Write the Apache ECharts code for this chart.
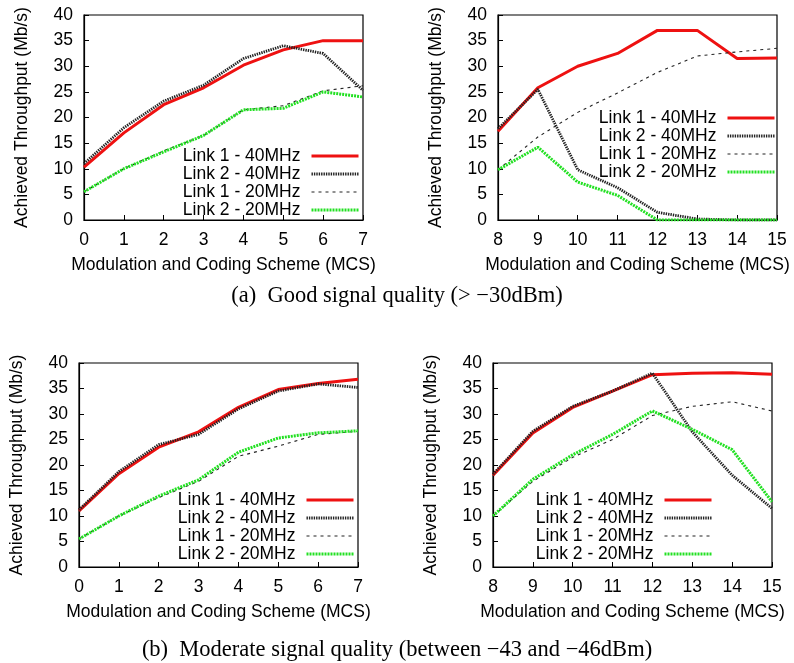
<!DOCTYPE html>
<html>
<head>
<meta charset="utf-8">
<script src="https://cdn.jsdelivr.net/npm/echarts@6/dist/echarts.min.js"></script>
<style>
html,body{margin:0;padding:0;background:#fff;}
#chart{width:794px;height:663px;}
</style>
</head>
<body>
<div id="chart"></div>
<script>
// ---- Data ----
const seriesNames = ['Link 1 - 40MHz', 'Link 2 - 40MHz', 'Link 1 - 20MHz', 'Link 2 - 20MHz'];
const mcsLow = [0, 1, 2, 3, 4, 5, 6, 7];
const mcsHigh = [8, 9, 10, 11, 12, 13, 14, 15];

// (a) Good signal quality, MCS 0-7
const goodLowL1_40 = [10.3, 17.0, 22.5, 25.8, 30.2, 33.2, 35.0, 35.0];
const goodLowL2_40 = [11.0, 18.0, 23.2, 26.3, 31.5, 34.0, 32.5, 25.3];
const goodLowL1_20 = [5.5, 10.0, 13.5, 16.5, 21.5, 22.3, 25.2, 26.2];
const goodLowL2_20 = [5.5, 10.0, 13.3, 16.5, 21.5, 21.8, 25.0, 24.0];

// (a) Good signal quality, MCS 8-15
const goodHighL1_40 = [17.3, 25.8, 30.0, 32.5, 37.0, 37.0, 31.5, 31.6];
const goodHighL2_40 = [17.8, 25.5, 9.8, 6.3, 1.5, 0.2, 0.0, 0.0];
const goodHighL1_20 = [9.8, 16.2, 21.0, 24.8, 28.8, 32.0, 32.8, 33.5];
const goodHighL2_20 = [9.8, 14.2, 7.4, 4.8, 0.0, 0.0, 0.0, 0.0];

// (b) Moderate signal quality, MCS 0-7
const modLowL1_40 = [11.0, 18.3, 23.5, 26.5, 31.3, 34.8, 36.0, 36.8];
const modLowL2_40 = [11.2, 18.7, 24.0, 26.0, 31.0, 34.5, 35.9, 35.2];
const modLowL1_20 = [5.5, 10.0, 13.6, 16.8, 21.7, 23.7, 26.0, 26.6];
const modLowL2_20 = [5.5, 10.0, 13.9, 17.1, 22.5, 25.3, 26.3, 26.7];

// (b) Moderate signal quality, MCS 8-15
const modHighL1_40 = [18.0, 26.3, 31.3, 34.5, 37.7, 38.0, 38.1, 37.8];
const modHighL2_40 = [18.2, 26.6, 31.5, 34.5, 38.0, 26.5, 18.0, 11.5];
const modHighL1_20 = [10.0, 16.8, 21.5, 25.0, 29.7, 31.5, 32.4, 30.6];
const modHighL2_20 = [10.0, 17.2, 22.0, 26.0, 30.6, 27.0, 23.0, 12.8];

const yTicks = [0, 5, 10, 15, 20, 25, 30, 35, 40];
const captionA = '(a)  Good signal quality (> \u221230dBm)';
const captionB = '(b)  Moderate signal quality (between \u221243 and \u221246dBm)';

// ---- Layout / styles ----
const SANS = 'Liberation Sans, Arial, Helvetica, sans-serif';
const SERIF = 'Liberation Serif, Times New Roman, serif';
const FS = 17.5;

const styles = [
  {color: '#ee1111', width: 3, type: 'solid'},
  {color: '#222222', width: 2.8, type: [1.4, 1.0]},
  {color: '#222222', width: 1.1, type: [3, 4]},
  {color: '#22e022', width: 3, type: [2, 1]}
];

const panels = [
  {grid: {left: 84, top: 15, width: 279, height: 205}, xs: mcsLow, min: 0, max: 7,
   data: [goodLowL1_40, goodLowL2_40, goodLowL1_20, goodLowL2_20], legend: {right: 434, top: 147}},
  {grid: {left: 498, top: 15, width: 279, height: 205}, xs: mcsHigh, min: 8, max: 15,
   data: [goodHighL1_40, goodHighL2_40, goodHighL1_20, goodHighL2_20], legend: {right: 18, top: 109}},
  {grid: {left: 79, top: 363, width: 279, height: 204}, xs: mcsLow, min: 0, max: 7,
   data: [modLowL1_40, modLowL2_40, modLowL1_20, modLowL2_20], legend: {right: 439, top: 491}},
  {grid: {left: 493, top: 363, width: 279, height: 204}, xs: mcsHigh, min: 8, max: 15,
   data: [modHighL1_40, modHighL2_40, modHighL1_20, modHighL2_20], legend: {right: 81, top: 491}}
];

const grids = [], xAxes = [], yAxes = [], series = [], legends = [];
panels.forEach((p, i) => {
  grids.push(Object.assign({show: true, borderColor: '#000', borderWidth: 1.2, backgroundColor: 'transparent'}, p.grid));
  xAxes.push({
    type: 'value', gridIndex: i, min: p.min, max: p.max, interval: 1,
    name: 'Modulation and Coding Scheme (MCS)', nameLocation: 'middle', nameGap: 36,
    nameTextStyle: {fontFamily: SANS, fontSize: FS, color: '#000'},
    axisLine: {lineStyle: {color: '#000', width: 1.2}},
    axisTick: {inside: true, length: 5, lineStyle: {color: '#000'}},
    axisLabel: {fontFamily: SANS, fontSize: FS, color: '#000', margin: 11},
    splitLine: {show: false}
  });
  yAxes.push({
    type: 'value', gridIndex: i, min: yTicks[0], max: yTicks[yTicks.length - 1], interval: 5,
    name: 'Achieved Throughput (Mb/s)', nameLocation: 'middle', nameGap: 53,
    nameTextStyle: {fontFamily: SANS, fontSize: FS, color: '#000'},
    axisLine: {lineStyle: {color: '#000', width: 1.2}},
    axisTick: {inside: true, length: 5, lineStyle: {color: '#000'}},
    axisLabel: {fontFamily: SANS, fontSize: FS, color: '#000', margin: 11},
    splitLine: {show: false}
  });
  p.data.forEach((vals, k) => {
    series.push({
      name: seriesNames[k], type: 'line', xAxisIndex: i, yAxisIndex: i,
      data: p.xs.map((x, j) => [x, vals[j]]),
      symbol: 'none', showSymbol: false, silent: true, animation: false,
      lineStyle: Object.assign({}, styles[k]),
      itemStyle: {color: styles[k].color},
      z: 2 + k
    });
  });
  legends.push({
    orient: 'vertical', align: 'right', right: p.legend.right, top: p.legend.top,
    padding: 0, itemGap: 0, itemWidth: 47, itemHeight: 14,
    data: seriesNames, selectedMode: false,
    itemStyle: {opacity: 0},
    lineStyle: {width: 'inherit', type: 'inherit'},
    textStyle: {fontFamily: SANS, fontSize: FS, color: '#000', lineHeight: 18, padding: [0, 6, 0, 0]}
  });
});

const chart = echarts.init(document.getElementById('chart'), null, {renderer: 'canvas'});
chart.setOption({
  backgroundColor: '#fff',
  animation: false,
  title: [
    {text: captionA, left: 'center', top: 285, padding: 0,
     textStyle: {fontFamily: SERIF, fontSize: 22.5, fontWeight: 'normal', color: '#000'}},
    {text: captionB, left: 'center', top: 639, padding: 0,
     textStyle: {fontFamily: SERIF, fontSize: 22.5, fontWeight: 'normal', color: '#000'}}
  ],
  grid: grids,
  xAxis: xAxes,
  yAxis: yAxes,
  legend: legends,
  series: series
});
</script>
</body>
</html>
